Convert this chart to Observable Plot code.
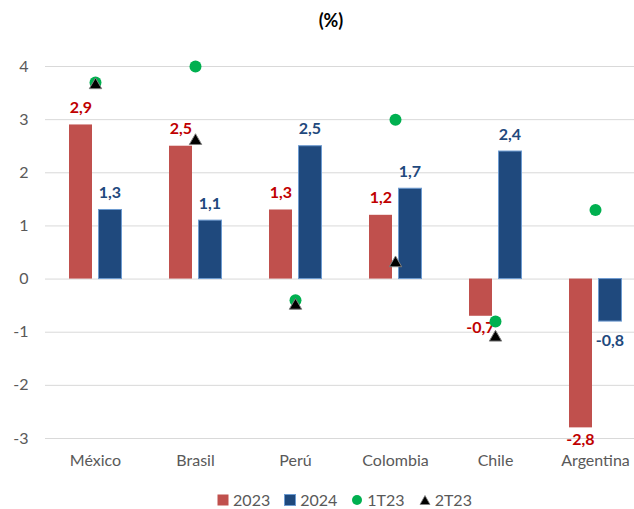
<!DOCTYPE html>
<html>
<head>
<meta charset="utf-8">
<script src="https://cdn.jsdelivr.net/npm/d3@7"></script>
<script src="https://cdn.jsdelivr.net/npm/@observablehq/plot@0.6"></script>
<style>
  body { margin: 0; background: #fff; font-family: Lato, "Noto Sans", sans-serif; }
  #title { height: 40px; box-sizing: border-box; padding-top: 9px; padding-left: 28px; text-align: center; font-size: 18px; font-weight: bold; line-height: 22px; color: #000; }
  #legend { height: 29px; box-sizing: border-box; padding-top: 11px; padding-left: 55px; display: flex; justify-content: center; align-items: center; font-size: 16px; line-height: 18px; color: #595959; }
  .item { display: flex; align-items: center; margin: 0 7px; }
  .item svg { margin-right: 4px; }
</style>
</head>
<body>
<div id="title">(%)</div>
<div id="chart"></div>
<div id="legend"></div>
<script>
// Crecimiento del PIB por país (%)
const countries = ["México", "Brasil", "Perú", "Colombia", "Chile", "Argentina"];
const growth2023 = [2.9, 2.5, 1.3, 1.2, -0.7, -2.8];
const growth2024 = [1.3, 1.1, 2.5, 1.7, 2.4, -0.8];
const q1_23 = [3.7, 4.0, -0.4, 3.0, -0.8, 1.3];
const q2_23 = [3.65, 2.6, -0.5, 0.3, -1.1, null];
const yTicks = [-3, -2, -1, 0, 1, 2, 3, 4];

const colors = {
  bar2023: "#c0504d",
  bar2024: "#1f497d",
  edge2024: "#6d9bd1",
  text2023: "#c00000",
  text2024: "#1f497d",
  q1: "#00b050",
  q2: "#000000"
};

const rows = (values) => countries.map((country, i) => ({country, value: values[i]}))
  .filter(d => d.value !== null);
const r2023 = rows(growth2023);
const r2024 = rows(growth2024);
const rq1 = rows(q1_23);
const rq2 = rows(q2_23);

const fmt = v => v.toFixed(1).replace(".", ",");
const labelStyle = {x: "country", y: "value", text: d => fmt(d.value), fontWeight: "bold", fontSize: 16};

const chart = Plot.plot({
  width: 634,
  height: 440,
  marginTop: 26,
  marginBottom: 42,
  marginLeft: 45,
  marginRight: 0,
  style: {fontFamily: "Lato, 'Noto Sans', sans-serif", fontSize: "16px", color: "#595959", background: "white"},
  x: {type: "band", domain: countries, range: [45, 645], padding: 0, label: null},
  y: {domain: [-3, 4], label: null},
  marks: [
    Plot.gridY(yTicks, {stroke: "#d9d9d9", strokeOpacity: 1, strokeWidth: 1}),
    Plot.axisY({ticks: yTicks, tickSize: 0, tickPadding: 17, tickFormat: d => String(d), label: null, fontSize: 16}),
    Plot.axisX({tickSize: 0, tickPadding: 16, label: null, fontSize: 16}),
    Plot.barY(r2023, {x: "country", y: "value", fill: colors.bar2023, insetLeft: 24, insetRight: 53}),
    Plot.barY(r2024, {x: "country", y: "value", fill: colors.bar2024, stroke: colors.edge2024, strokeWidth: 1, insetLeft: 53.5, insetRight: 23.5}),
    Plot.text(r2023.filter(d => d.value >= 0), {...labelStyle, fill: colors.text2023, dx: -14.5, dy: -17}),
    Plot.text(r2023.filter(d => d.value < 0), {...labelStyle, fill: colors.text2023, dx: -15, dy: 12}),
    Plot.text(r2024.filter(d => d.value >= 0), {...labelStyle, fill: colors.text2024, dx: 14.5, dy: -17}),
    Plot.text(r2024.filter(d => d.value < 0), {...labelStyle, fill: colors.text2024, dx: 14.5, dy: 19}),
    Plot.dot(rq1, {x: "country", y: "value", r: 6, fill: colors.q1}),
    Plot.dot(rq2, {x: "country", y: "value", symbol: "triangle", r: 4.6, fill: colors.q2, stroke: "#808080", strokeWidth: 1})
  ]
});
document.getElementById("chart").appendChild(chart);

// Leyenda
const legendItems = [
  {label: "2023", swatch: `<rect x="0.5" y="0.5" width="11" height="11" fill="${colors.bar2023}"/>`},
  {label: "2024", swatch: `<rect x="0.5" y="0.5" width="11" height="11" fill="${colors.bar2024}" stroke="${colors.edge2024}"/>`},
  {label: "1T23", swatch: `<circle cx="6" cy="6" r="5" fill="${colors.q1}"/>`},
  {label: "2T23", swatch: `<path d="M6,1.5 L11,10.5 L1,10.5 Z" fill="${colors.q2}" stroke="#808080" stroke-width="0.8"/>`}
];
const legend = document.getElementById("legend");
for (const it of legendItems) {
  const el = document.createElement("div");
  el.className = "item";
  el.innerHTML = `<svg width="12" height="12">${it.swatch}</svg><span>${it.label}</span>`;
  legend.appendChild(el);
}
</script>
</body>
</html>
